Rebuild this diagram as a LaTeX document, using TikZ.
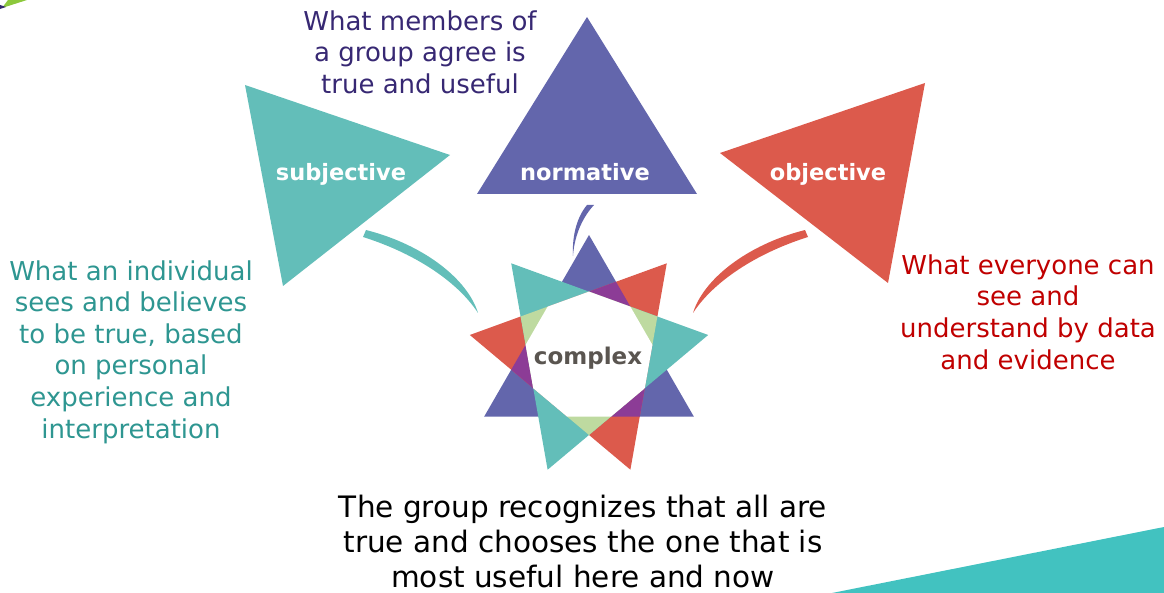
\documentclass[tikz,border=0pt]{standalone}
\usepackage{fontspec}
\setmainfont{DejaVu Sans}

\definecolor{tealc}{RGB}{99,190,185}
\definecolor{bluec}{RGB}{99,102,172}
\definecolor{redc}{RGB}{220,90,76}
\definecolor{purplec}{RGB}{140,60,150}
\definecolor{greenc}{RGB}{190,218,160}
\definecolor{toptext}{RGB}{55,40,115}
\definecolor{lefttext}{RGB}{46,150,145}
\definecolor{righttext}{RGB}{192,0,0}
\definecolor{greyc}{RGB}{90,85,80}
\definecolor{bandc}{RGB}{66,194,192}
\definecolor{cornergreen}{RGB}{140,200,60}
\definecolor{cornerblue}{RGB}{50,40,110}

\begin{document}
\begin{tikzpicture}[x=1pt,y=-1pt,
    desc/.style={align=center,inner sep=0pt,font=\fontsize{26}{31.6}\selectfont},
    tag/.style={inner sep=0pt,anchor=base,text=white,font=\fontsize{22.5}{27}\selectfont\bfseries}]
    \useasboundingbox (0,0) rectangle (1164,593);

    % Corner pieces
    \fill[cornergreen] (2,8) -- (27,0) -- (8,0) -- cycle;
    \fill[cornerblue] (0,5) -- (6,7) -- (0,9) -- cycle;
    \fill[bandc] (832,593) -- (1164,527) -- (1164,593) -- cycle;

    % Big triangles
    \fill[tealc] (245,85) -- (450,155) -- (283,286) -- cycle; % subjective
    \fill[bluec] (587,17) -- (477,194) -- (697,194) -- cycle; % normative
    \fill[redc] (925,83) -- (720,153) -- (888,283) -- cycle; % objective

    % Labels on triangles
    \node[tag] (subj) at (341,181) {subjective};
    \node[tag] (norm) at (585,181) {normative};
    \node[tag] (obj) at (828,181) {objective};

    % Tapered arcs towards the star
    \fill[tealc] (366,230) .. controls (425,245) and (468,280) .. (478,313)
        .. controls (460,285) and (420,255) .. (363,237) -- cycle;
    \fill[redc] (805,230) .. controls (746,245) and (703,280) .. (693,313)
        .. controls (711,285) and (751,255) .. (808,237) -- cycle;
    \fill[bluec] (594,205) .. controls (580,220) and (574,240) .. (573,256)
        .. controls (572,238) and (576,218) .. (587,205) -- cycle;

    % Star of three triangles
    \begin{scope}[shift={(589,356)},y=1pt]
        \def\R{121} % radius of the star
        \def\bluetri{(90:\R) -- (210:\R) -- (330:\R) -- cycle}
        \def\redtri{(50:\R) -- (170:\R) -- (290:\R) -- cycle}
        \def\tealtri{(10:\R) -- (130:\R) -- (250:\R) -- cycle}
        \fill[bluec] \bluetri;
        \fill[redc] \redtri;
        \fill[tealc] \tealtri;
        % Overlaps
        \begin{scope}
            \clip \bluetri;
            \fill[purplec] \redtri;
        \end{scope}
        \begin{scope}
            \clip \redtri;
            \fill[greenc] \tealtri;
        \end{scope}
        \begin{scope}
            \clip \bluetri;
            \clip \redtri;
            \fill[white] \tealtri;
        \end{scope}
    \end{scope}
    \node[tag,text=greyc,font=\fontsize{23}{27}\selectfont\bfseries] (cplx) at (588,364) {complex};

    % Descriptions
    \node[desc,text=toptext] (normtxt) at (420,52) {What members of\\a group agree is\\true and useful};
    \node[desc,text=lefttext] (subjtxt) at (131,352) {What an individual\\sees and believes\\to be true, based\\on personal\\experience and\\interpretation};
    \node[desc,text=righttext] (objtxt) at (1028,312) {What everyone can\\see and\\understand by data\\and evidence};
    \node[desc,text=black,font=\fontsize{29.5}{35}\selectfont] (grouptxt) at (583,541) {The group recognizes that all are\\true and chooses the one that is\\most useful here and now};

\end{tikzpicture}
\end{document}
